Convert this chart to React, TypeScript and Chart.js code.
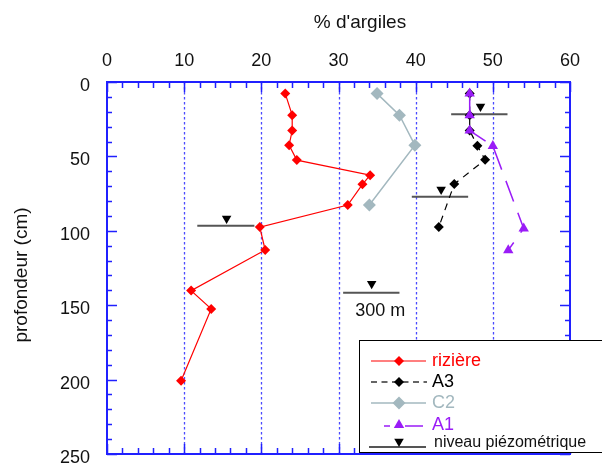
import React, { useEffect, useRef } from 'react';
import { Chart, registerables } from 'chart.js';

Chart.register(...registerables);

// ---- data (clay % vs depth in cm) ----
const rizX = [23.1, 24.0, 24.0, 23.6, 24.6, 34.1, 33.1, 31.2, 19.8, 20.5, 10.9, 13.5, 9.6];
const rizY = [7.8, 22.3, 32.6, 42.5, 52.5, 62.6, 68.8, 82.7, 97.5, 112.9, 140.2, 152.5, 200.8];
const a3X = [47.0, 47.0, 47.0, 48.0, 49.0, 45.0, 43.0];
const a3Y = [7.8, 22.3, 32.6, 42.9, 52.3, 68.6, 97.5];
const c2X = [35.0, 37.9, 39.9, 34.0];
const c2Y = [7.8, 22.3, 42.5, 82.7];
const a1X = [47.0, 47.0, 47.0, 50.0, 54.0, 52.0];
const a1Y = [7.8, 22.3, 32.6, 43.0, 98.4, 113.0];

// piezometric levels
const piezoXStart = [44.6, 39.5, 11.7, 30.6];
const piezoXEnd = [51.9, 46.8, 19.1, 37.9];
const piezoDepth = [21.7, 77.2, 96.6, 141.6];
const piezoMarkX = [48.4, 43.3, 15.5, 34.3];
const piezoMarkDepth = [16.4, 72.3, 91.8, 135.6];
const distanceLabel = '300 m';
const distanceX = 35.4;
const distanceDepth = 154.2;

const xTitle = "% d'argiles";
const yTitle = 'profondeur (cm)';
const legendLabels = ['rizière', 'A3', 'C2', 'A1', 'niveau piézométrique'];

const xMin = 0, xMax = 60, xStep = 10, xMinor = 2;
const yMin = 0, yMax = 250, yStep = 50, yMinor = 10;

// ---- styles ----
const FONT = '"Liberation Sans", Arial, Helvetica, sans-serif';
const RED = '#ff0000';
const BLACK = '#000000';
const GREY = '#a3b8bf';
const PURPLE = '#9a1cf7';
const PIEZO = '#555555';
const AXIS = '#2020ff';
const GRID = '#4a4aff';

const pts = (xs: number[], ys: number[]) => xs.map((x, i) => ({ x, y: ys[i] }));

function drawMarker(ctx: CanvasRenderingContext2D, kind: string, x: number, y: number, r: number, color: string) {
  ctx.save();
  ctx.fillStyle = color;
  ctx.beginPath();
  if (kind === 'diamond') {
    ctx.moveTo(x, y - r);
    ctx.lineTo(x + r, y);
    ctx.lineTo(x, y + r);
    ctx.lineTo(x - r, y);
  } else if (kind === 'up') {
    ctx.moveTo(x, y - r);
    ctx.lineTo(x + 0.866 * r, y + 0.5 * r);
    ctx.lineTo(x - 0.866 * r, y + 0.5 * r);
  } else {
    ctx.moveTo(x, y + r);
    ctx.lineTo(x + 0.866 * r, y - 0.5 * r);
    ctx.lineTo(x - 0.866 * r, y - 0.5 * r);
  }
  ctx.closePath();
  ctx.fill();
  ctx.restore();
}

const framePlugin = {
  id: 'frame',
  beforeDatasetsDraw(chart: any) {
    const { ctx, chartArea: a, scales } = chart;
    const xs = scales.x, ys = scales.y;
    ctx.save();
    // dotted vertical grid
    ctx.strokeStyle = GRID;
    ctx.lineWidth = 1.3;
    ctx.setLineDash([2.5, 2.5]);
    for (let v = xMin + xStep; v < xMax; v += xStep) {
      const px = Math.round(xs.getPixelForValue(v)) + 0.5;
      ctx.beginPath();
      ctx.moveTo(px, a.top);
      ctx.lineTo(px, a.bottom);
      ctx.stroke();
    }
    ctx.setLineDash([]);
    // inward ticks
    ctx.strokeStyle = AXIS;
    ctx.lineWidth = 1.5;
    for (let v = xMin; v <= xMax; v += xMinor) {
      const px = Math.round(xs.getPixelForValue(v)) + 0.5;
      const len = v % xStep === 0 ? 10 : 6;
      ctx.beginPath();
      ctx.moveTo(px, a.top);
      ctx.lineTo(px, a.top + len);
      ctx.moveTo(px, a.bottom);
      ctx.lineTo(px, a.bottom - len);
      ctx.stroke();
    }
    for (let v = yMin; v <= yMax; v += yMinor) {
      const py = Math.round(ys.getPixelForValue(v)) + 0.5;
      const len = v % yStep === 0 ? 10 : 5;
      ctx.beginPath();
      ctx.moveTo(a.left, py);
      ctx.lineTo(a.left + len, py);
      ctx.moveTo(a.right, py);
      ctx.lineTo(a.right - len, py);
      ctx.stroke();
    }
    ctx.lineWidth = 2;
    ctx.strokeRect(a.left, a.top, a.right - a.left, a.bottom - a.top);
    ctx.restore();
  },
  afterDraw(chart: any) {
    const { ctx, scales } = chart;
    const xs = scales.x, ys = scales.y;
    ctx.save();
    ctx.fillStyle = '#111';
    ctx.textAlign = 'center';
    ctx.textBaseline = 'middle';
    ctx.font = `19px ${FONT}`;
    ctx.fillText(xTitle, 360, 23);
    ctx.save();
    ctx.translate(22, 275);
    ctx.rotate(-Math.PI / 2);
    ctx.fillText(yTitle, 0, 0);
    ctx.restore();
    ctx.font = `18px ${FONT}`;
    ctx.fillText(distanceLabel, xs.getPixelForValue(distanceX), ys.getPixelForValue(distanceDepth));

    // legend
    const L = { left: 359.5, top: 340.5, right: 640, bottom: 452.5 };
    ctx.fillStyle = '#ffffff';
    ctx.fillRect(L.left, L.top, L.right - L.left, L.bottom - L.top);
    ctx.strokeStyle = '#000';
    ctx.lineWidth = 1;
    ctx.strokeRect(L.left, L.top, L.right - L.left, L.bottom - L.top);

    const textX = 432;
    ctx.textAlign = 'left';
    ctx.font = `18px ${FONT}`;
    // rizière
    let y = 361;
    ctx.strokeStyle = RED; ctx.lineWidth = 1.2;
    ctx.beginPath(); ctx.moveTo(371, y); ctx.lineTo(426, y); ctx.stroke();
    drawMarker(ctx, 'diamond', 399, y, 5, RED);
    ctx.fillStyle = RED; ctx.fillText(legendLabels[0], textX, y);
    // A3
    y = 382;
    ctx.strokeStyle = '#333'; ctx.lineWidth = 1.3; ctx.setLineDash([6, 4.5]);
    ctx.beginPath(); ctx.moveTo(371, y); ctx.lineTo(427, y); ctx.stroke();
    ctx.setLineDash([]);
    drawMarker(ctx, 'diamond', 399, y, 5, BLACK);
    ctx.fillStyle = BLACK; ctx.fillText(legendLabels[1], textX, y);
    // C2
    y = 403;
    ctx.strokeStyle = GREY; ctx.lineWidth = 1.5;
    ctx.beginPath(); ctx.moveTo(371, y); ctx.lineTo(426, y); ctx.stroke();
    drawMarker(ctx, 'diamond', 399, y, 6.5, GREY);
    ctx.fillStyle = GREY; ctx.fillText(legendLabels[2], textX, y);
    // A1
    y = 426;
    ctx.strokeStyle = PURPLE; ctx.lineWidth = 1.5;
    ctx.beginPath(); ctx.moveTo(384, y); ctx.lineTo(390, y); ctx.moveTo(405, y); ctx.lineTo(423, y); ctx.stroke();
    drawMarker(ctx, 'up', 399, y - 1, 6, PURPLE);
    ctx.fillStyle = PURPLE; ctx.fillText(legendLabels[3], textX, y - 1);
    // piezometric
    y = 447;
    ctx.strokeStyle = PIEZO; ctx.lineWidth = 2;
    ctx.beginPath(); ctx.moveTo(369, y); ctx.lineTo(426, y); ctx.stroke();
    drawMarker(ctx, 'down', 399, y - 5.5, 5.5, BLACK);
    ctx.font = `16px ${FONT}`;
    ctx.fillStyle = '#111'; ctx.fillText(legendLabels[4], 434, 443);
    ctx.restore();
  },
};

export default function App() {
  const ref = useRef<HTMLCanvasElement>(null);
  useEffect(() => {
    const canvas = ref.current;
    if (!canvas) return;
    Chart.defaults.font.family = FONT;
    const piezoLines = piezoXStart.map((s, i) => ({
      label: 'piezo' + i,
      data: [{ x: s, y: piezoDepth[i] }, { x: piezoXEnd[i], y: piezoDepth[i] }],
      showLine: true,
      borderColor: PIEZO,
      borderWidth: 2,
      pointRadius: 0,
      order: 10,
    }));
    const chart = new Chart(canvas, {
      type: 'scatter',
      data: {
        datasets: [
          {
            label: 'A1', data: pts(a1X, a1Y), showLine: true,
            borderColor: PURPLE, backgroundColor: PURPLE, borderWidth: 1.5, borderDash: [22, 12],
            pointStyle: 'triangle', pointRadius: 6, pointBorderWidth: 0, order: 0,
          },
          {
            label: 'A3', data: pts(a3X, a3Y), showLine: true,
            borderColor: BLACK, backgroundColor: BLACK, borderWidth: 1.2, borderDash: [7, 6],
            pointStyle: 'rectRot', pointRadius: 5, pointBorderWidth: 0, order: 1,
          },
          {
            label: 'C2', data: pts(c2X, c2Y), showLine: true,
            borderColor: GREY, backgroundColor: GREY, borderWidth: 1.5,
            pointStyle: 'rectRot', pointRadius: 6.5, pointBorderWidth: 0, order: 2,
          },
          {
            label: 'rizière', data: pts(rizX, rizY), showLine: true,
            borderColor: RED, backgroundColor: RED, borderWidth: 1.2,
            pointStyle: 'rectRot', pointRadius: 5, pointBorderWidth: 0, order: 3,
          },
          {
            label: 'piezo marks', data: pts(piezoMarkX, piezoMarkDepth), showLine: false,
            backgroundColor: BLACK, borderColor: BLACK,
            pointStyle: 'triangle', pointRotation: 180, pointRadius: 5.5, pointBorderWidth: 0, order: 5,
          },
          ...piezoLines,
        ] as any,
      },
      options: {
        animation: false,
        responsive: false,
        devicePixelRatio: 1,
        layout: { padding: { top: 0, left: 0, right: 32, bottom: 9 } },
        plugins: { legend: { display: false }, tooltip: { enabled: false } },
        scales: {
          x: {
            type: 'linear', position: 'top', min: xMin, max: xMax,
            grid: { display: false }, border: { display: false },
            ticks: { stepSize: xStep, padding: 2, color: '#111', font: { size: 18 } },
            afterFit: (s: any) => { s.height = 82; },
          },
          y: {
            type: 'linear', position: 'left', reverse: true, min: yMin, max: yMax,
            grid: { display: true, drawOnChartArea: false, drawTicks: true, tickLength: 17, color: 'rgba(0,0,0,0)' },
            border: { display: false },
            ticks: { stepSize: yStep, padding: 0, labelOffset: 4, color: '#111', font: { size: 18, lineHeight: 1 } },
            afterFit: (s: any) => { s.width = 107; },
          },
        },
      } as any,
      plugins: [framePlugin],
    });
    return () => chart.destroy();
  }, []);
  return (
    <div style={{ position: 'fixed', left: 0, top: 0, width: 602, height: 463, background: '#fff', overflow: 'hidden' }}>
      <canvas ref={ref} width={602} height={463} style={{ display: 'block', width: 602, height: 463 }} />
    </div>
  );
}
